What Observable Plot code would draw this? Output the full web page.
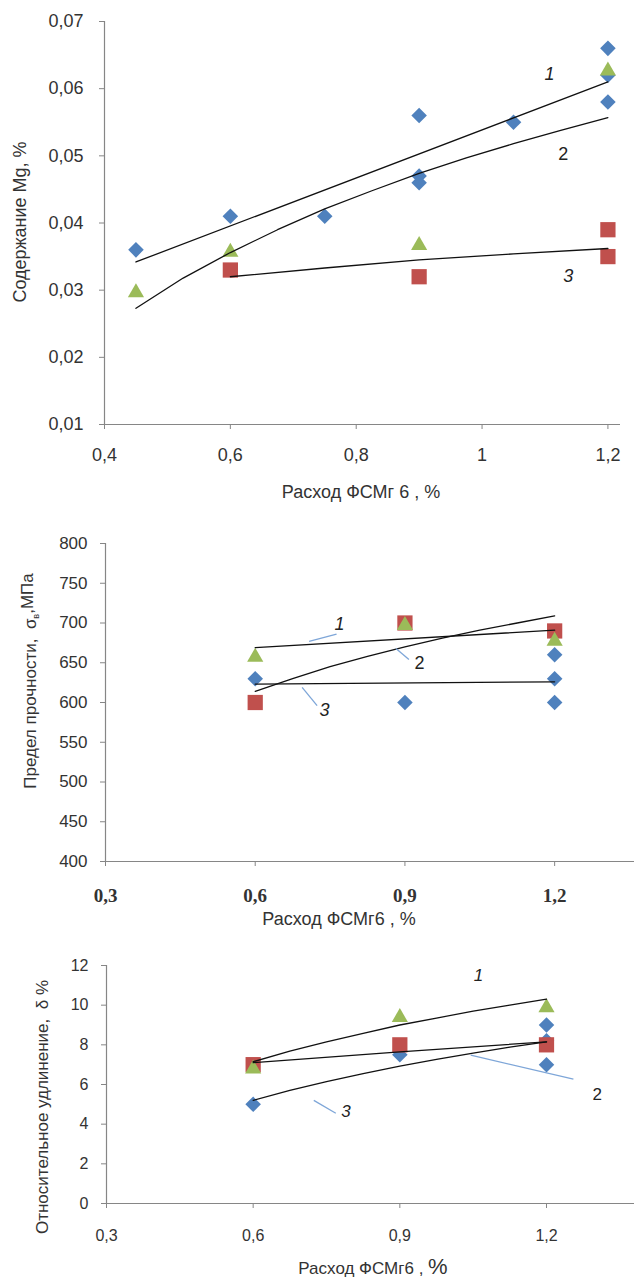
<!DOCTYPE html>
<html><head><meta charset="utf-8">
<script src="https://cdn.jsdelivr.net/npm/d3@7"></script>
<script src="https://cdn.jsdelivr.net/npm/@observablehq/plot@0.6"></script>
<style>
body{margin:0;background:#fff;}
#wrap{position:relative;width:634px;height:1284px;overflow:hidden;background:#fff;}
#wrap svg{position:absolute;left:0;}
</style></head><body><div id="wrap"></div>
<script>
const FONT = '"Liberation Sans", Arial, sans-serif';
const BLUE = "#4F81BD", RED = "#C0504D", GREEN = "#9BBB59";
const AXIS = "#868686", TEXT = "#333";

// ---------- Chart 1: Mg content ----------
const mgTicksX = [0.4, 0.6, 0.8, 1, 1.2];
const mgTicksY = [0.01, 0.02, 0.03, 0.04, 0.05, 0.06, 0.07];
const mgBlueX = [0.45, 0.6, 0.75, 0.9, 0.9, 0.9, 1.05, 1.2, 1.2, 1.2];
const mgBlueY = [0.036, 0.041, 0.041, 0.056, 0.047, 0.046, 0.055, 0.066, 0.062, 0.058];
const mgRedX = [0.6, 0.9, 1.2, 1.2];
const mgRedY = [0.033, 0.032, 0.039, 0.035];
const mgGreenX = [0.45, 0.6, 0.9, 1.2];
const mgGreenY = [0.030, 0.036, 0.037, 0.063];
const mgTrend1X = [0.45, 1.2];
const mgTrend1Y = [0.0342, 0.061];
const mgTrend2X = [0.45, 0.525, 0.6, 0.675, 0.75, 0.825, 0.9, 0.975, 1.05, 1.125, 1.2];
const mgTrend2Y = [0.0273, 0.0318, 0.0356, 0.0390, 0.0421, 0.0448, 0.0474, 0.0497, 0.0518, 0.0538, 0.0557];
const mgTrend3X = [0.6, 0.75, 0.9, 1.05, 1.2];
const mgTrend3Y = [0.0320, 0.0333, 0.0345, 0.0354, 0.0362];
const mgLabelText = ["1", "2", "3"];
const mgLabelX = [1.107, 1.129, 1.137];
const mgLabelY = [0.0622, 0.0503, 0.0321];
const mgLabelItalic = [true, false, true];

// ---------- Chart 2: tensile strength ----------
const sTicksX = [0.3, 0.6, 0.9, 1.2];
const sTicksY = [400, 450, 500, 550, 600, 650, 700, 750, 800];
const sBlueX = [0.6, 0.9, 1.2, 1.2, 1.2];
const sBlueY = [630, 600, 660, 630, 600];
const sRedX = [0.6, 0.9, 1.2];
const sRedY = [600, 700, 690];
const sGreenX = [0.6, 0.9, 1.2];
const sGreenY = [660, 700, 680];
const sTrend1X = [0.6, 1.2];
const sTrend1Y = [669, 691];
const sTrend2X = [0.6, 0.675, 0.75, 0.825, 0.9, 0.975, 1.05, 1.125, 1.2];
const sTrend2Y = [614, 630, 645, 658, 670, 681, 691, 700, 709];
const sTrend3X = [0.6, 1.2];
const sTrend3Y = [623, 626];
const sLabelText = ["1", "2", "3"];
const sLabelX = [0.769, 0.929, 0.739];
const sLabelY = [699, 650, 590];
const sLabelItalic = [true, false, true];
const sLeaderX1 = [0.708, 0.882, 0.694];
const sLeaderY1 = [677, 668, 619];
const sLeaderX2 = [0.763, 0.908, 0.724];
const sLeaderY2 = [686, 654, 596];

// ---------- Chart 3: elongation ----------
const eTicksX = [0.3, 0.6, 0.9, 1.2];
const eTicksY = [0, 2, 4, 6, 8, 10, 12];
const eBlueX = [0.6, 0.9, 1.2, 1.2, 1.2];
const eBlueY = [5, 7.5, 9, 8.2, 7];
const eRedX = [0.6, 0.9, 1.2];
const eRedY = [7, 8, 8];
const eGreenX = [0.6, 0.9, 1.2];
const eGreenY = [6.9, 9.5, 10];
const eTrend1X = [0.6, 0.675, 0.75, 0.825, 0.9, 0.975, 1.05, 1.125, 1.2];
const eTrend1Y = [7.15, 7.68, 8.15, 8.58, 9.0, 9.35, 9.7, 10.0, 10.3];
const eTrend2X = [0.6, 0.9, 1.2];
const eTrend2Y = [7.1, 7.65, 8.15];
const eTrend3X = [0.6, 0.675, 0.75, 0.825, 0.9, 0.975, 1.05, 1.125, 1.2];
const eTrend3Y = [5.2, 5.7, 6.15, 6.55, 6.93, 7.27, 7.58, 7.88, 8.15];
const eLabelText = ["1", "2", "3"];
const eLabelX = [1.061, 1.304, 0.790];
const eLabelY = [11.5, 5.5, 4.62];
const eLabelItalic = [true, false, true];
const eLeaderX1 = [1.045, 0.724];
const eLeaderY1 = [7.48, 5.2];
const eLeaderX2 = [1.255, 0.769];
const eLeaderY2 = [6.27, 4.55];

// ---------- helpers ----------
const zip = (xs, ys) => xs.map((x, i) => ({x, y: ys[i]}));
const comma = d => String(d).replace(".", ",");
function labels(texts, xs, ys, italic, size) {
  const d = texts.map((t, i) => ({t, x: xs[i], y: ys[i], it: italic[i]}));
  return [
    Plot.text(d.filter(e => e.it), {x: "x", y: "y", text: "t", fontSize: size, fontStyle: "italic", fill: "#222"}),
    Plot.text(d.filter(e => !e.it), {x: "x", y: "y", text: "t", fontSize: size, fill: "#222"})
  ];
}
function leaders(x1, y1, x2, y2) {
  const d = x1.map((x, i) => ({x1: x, y1: y1[i], x2: x2[i], y2: y2[i]}));
  return Plot.link(d, {x1: "x1", y1: "y1", x2: "x2", y2: "y2", stroke: "#7EA6D8", strokeWidth: 1.3});
}
function markers(bx, by, rx, ry, gx, gy) {
  return [
    Plot.dot(zip(bx, by), {x: "x", y: "y", symbol: "diamond2", r: 7, fill: BLUE}),
    Plot.dot(zip(rx, ry), {x: "x", y: "y", symbol: "square", r: 8.6, fill: RED}),
    Plot.dot(zip(gx, gy), {x: "x", y: "y", symbol: "triangle", r: 6, dy: 2.3, fill: GREEN})
  ];
}
function trend(xs, ys) {
  return Plot.line(zip(xs, ys), {x: "x", y: "y", stroke: "#111", strokeWidth: 1.3, curve: "linear"});
}
function addText(svg, x, y, rot, size, parts, anchor = "middle") {
  const t = d3.select(svg).append("text")
    .attr("transform", `translate(${x},${y})` + (rot ? ` rotate(${rot})` : ""))
    .attr("text-anchor", anchor).attr("dy", "0.35em")
    .attr("fill", TEXT).style("font-family", FONT).style("font-size", size + "px")
    .style("white-space", "pre");
  for (const p of parts) {
    const s = t.append("tspan").text(p.text);
    if (p.size) s.style("font-size", p.size + "px");
    if (p.dy) s.attr("dy", p.dy);
  }
  return t;
}
const wrap = document.getElementById("wrap");

// ---------- Chart 1 ----------
const c1 = Plot.plot({
  width: 634, height: 520,
  marginTop: 21, marginBottom: 96, marginLeft: 104, marginRight: 14,
  style: {fontFamily: FONT, background: "white"},
  x: {domain: [0.4, 1.22], label: null},
  y: {domain: [0.01, 0.07], label: null},
  marks: [
    Plot.ruleX([0.4], {stroke: AXIS, strokeWidth: 1.2}),
    Plot.ruleY([0.01], {stroke: AXIS, strokeWidth: 1.2}),
    Plot.axisY({ticks: mgTicksY, tickFormat: comma, tickSize: 5, tickPadding: 16, fontSize: 18, color: TEXT, stroke: AXIS, label: null}),
    Plot.axisX({ticks: mgTicksX, tickFormat: comma, tickSize: 5, tickPadding: 19, fontSize: 18, color: TEXT, stroke: AXIS, label: null}),
    ...markers(mgBlueX, mgBlueY, mgRedX, mgRedY, mgGreenX, mgGreenY),
    trend(mgTrend1X, mgTrend1Y), trend(mgTrend2X, mgTrend2Y), trend(mgTrend3X, mgTrend3Y),
    ...labels(mgLabelText, mgLabelX, mgLabelY, mgLabelItalic, 18)
  ]
});
c1.style.top = "0px";
addText(c1, 20, 222, -90, 18, [{text: "Содержание Mg, %"}]);
addText(c1, 361, 492, 0, 18, [{text: "Расход ФСМг 6 , %"}]);
wrap.appendChild(c1);

// ---------- Chart 2 ----------
const c2 = Plot.plot({
  width: 634, height: 420,
  marginTop: 23, marginBottom: 79, marginLeft: 105, marginRight: 0,
  style: {fontFamily: FONT, background: "white"},
  x: {domain: [0.3, 1.36], label: null},
  y: {domain: [400, 800], label: null},
  marks: [
    Plot.ruleX([0.3], {stroke: AXIS, strokeWidth: 1.2}),
    Plot.ruleY([400], {stroke: AXIS, strokeWidth: 1.2}),
    Plot.axisY({ticks: sTicksY, tickSize: 5, tickPadding: 13, fontSize: 17, color: TEXT, stroke: AXIS, label: null}),
    Plot.axisX({ticks: sTicksX, tickFormat: comma, tickSize: 5, tickPadding: 22, fontSize: 19, fontFamily: '"Liberation Serif", "Times New Roman", serif', fontWeight: "bold", color: TEXT, stroke: AXIS, label: null}),
    ...markers(sBlueX, sBlueY, sRedX, sRedY, sGreenX, sGreenY),
    trend(sTrend1X, sTrend1Y), trend(sTrend2X, sTrend2Y), trend(sTrend3X, sTrend3Y),
    leaders(sLeaderX1, sLeaderY1, sLeaderX2, sLeaderY2),
    ...labels(sLabelText, sLabelX, sLabelY, sLabelItalic, 18)
  ]
});
c2.style.top = "520px";
addText(c2, 30, 161, -90, 17, [
  {text: "Предел прочности,  σ"},
  {text: "в", size: 9, dy: "0.35em"},
  {text: ",МПа", dy: "-0.35em"}
]);
addText(c2, 339, 399, 0, 18, [{text: "Расход ФСМг6 , %"}]);
wrap.appendChild(c2);

// ---------- Chart 3 ----------
const c3 = Plot.plot({
  width: 634, height: 344,
  marginTop: 25, marginBottom: 81, marginLeft: 106, marginRight: 0,
  style: {fontFamily: FONT, background: "white"},
  x: {domain: [0.3, 1.38], label: null},
  y: {domain: [0, 12], label: null},
  marks: [
    Plot.ruleX([0.3], {stroke: AXIS, strokeWidth: 1.2}),
    Plot.ruleY([0], {stroke: AXIS, strokeWidth: 1.2}),
    Plot.axisY({ticks: eTicksY, tickSize: 5, tickPadding: 13, fontSize: 16, color: TEXT, stroke: AXIS, label: null}),
    Plot.axisX({ticks: eTicksX, tickFormat: comma, tickSize: 5, tickPadding: 21, fontSize: 16, color: TEXT, stroke: AXIS, label: null}),
    ...markers(eBlueX, eBlueY, eRedX, eRedY, eGreenX, eGreenY),
    trend(eTrend1X, eTrend1Y), trend(eTrend2X, eTrend2Y), trend(eTrend3X, eTrend3Y),
    leaders(eLeaderX1, eLeaderY1, eLeaderX2, eLeaderY2),
    ...labels(eLabelText, eLabelX, eLabelY, eLabelItalic, 17)
  ]
});
c3.style.top = "940px";
addText(c3, 42, 167, -90, 17, [{text: "Относительное удлинение,  δ %"}]);
addText(c3, 373, 328, 0, 17, [{text: "Расход ФСМг6 , "}, {text: "%", size: 22}]);
wrap.appendChild(c3);
</script>
</body></html>
